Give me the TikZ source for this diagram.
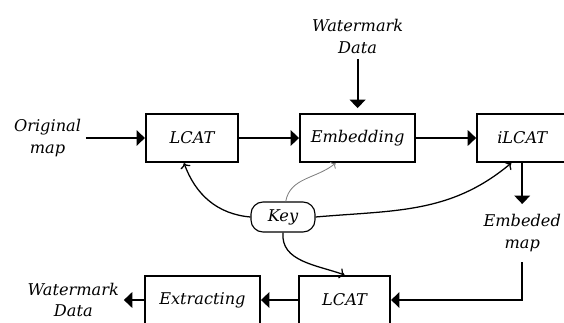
\documentclass[tikz,border=0pt]{standalone}
\usepackage{fontspec}
\setmainfont{DejaVu Serif}
\usetikzlibrary{shapes,arrows,arrows.meta}
\usetikzlibrary{positioning}
\usetikzlibrary{calc}
\newcommand\mytext{\fontsize{11.5}{15.5}\selectfont\itshape}
\newcommand\myblock[4][]{%
  \node[myblock,#1,minimum width=#2cm] (#3) {#4};
}

\begin{document}
\begin{tikzpicture}[
node distance=1.5cm,
font=\mytext,
myblock/.style={
  rectangle,
  draw,
  line width=1.5pt,
  minimum height=1.2cm,
  text centered},
mylabel/.style={
  align=center},
keynode/.style={
  rectangle,
  rounded corners=0.3cm,
  draw,
  line width=0.8pt,
  minimum width=1.6cm,
  minimum height=0.75cm},
flow/.style={
  -{Triangle[width=11pt,length=6pt]},
  line width=1.4pt},
keyline/.style={
  ->,
  line width=0.9pt}
]
\useasboundingbox (0,0) rectangle (14.1,-8.075);
\myblock[at={(4.8,-3.45)}]{2.3}{lcat}{LCAT}
\myblock[right=of lcat]{2.875}{embed}{Embedding}
\myblock[right=of embed]{2.25}{ilcat}{iLCAT}
\myblock[at={(8.6125,-7.5)}]{2.275}{dlcat}{LCAT}
\myblock[left=0.925cm of dlcat]{2.875}{extract}{Extracting}
\node[keynode] (key) at (7.075,-5.425) {Key};
\node[mylabel, left=1.475cm of lcat] (orig) {Original\\map};
\node[mylabel, above=1.35cm of embed] (wmin) {Watermark\\Data};
\node[mylabel, inner ysep=0.25cm, below=1.025cm of ilcat] (emap) {Embeded\\map};
\node[mylabel, left=0.5cm of extract] (wmout) {Watermark\\Data};
\draw[flow] (orig) -- (lcat);
\draw[flow] (lcat) -- (embed);
\draw[flow] (embed) -- (ilcat);
\draw[flow, shorten >=0.12cm] (wmin) -- (embed);
\draw[flow] (ilcat) -- (emap);
\draw[flow] (emap) |- (dlcat);
\draw[flow] (dlcat) -- (extract);
\draw[flow] (extract) -- (wmout);
\draw[keyline] (key.west) to[out=175,in=-70] ([xshift=-0.2cm]lcat.south);
\draw[keyline, gray, line width=0.6pt] (key.80) to[out=80,in=-140] ([xshift=-0.55cm]embed.south);
\draw[keyline] (key.east) to[out=5,in=-140] ([xshift=-0.275cm]ilcat.south);
\draw[keyline] (key.south) to[out=-95,in=160] (dlcat.north);
\end{tikzpicture}
\end{document}
